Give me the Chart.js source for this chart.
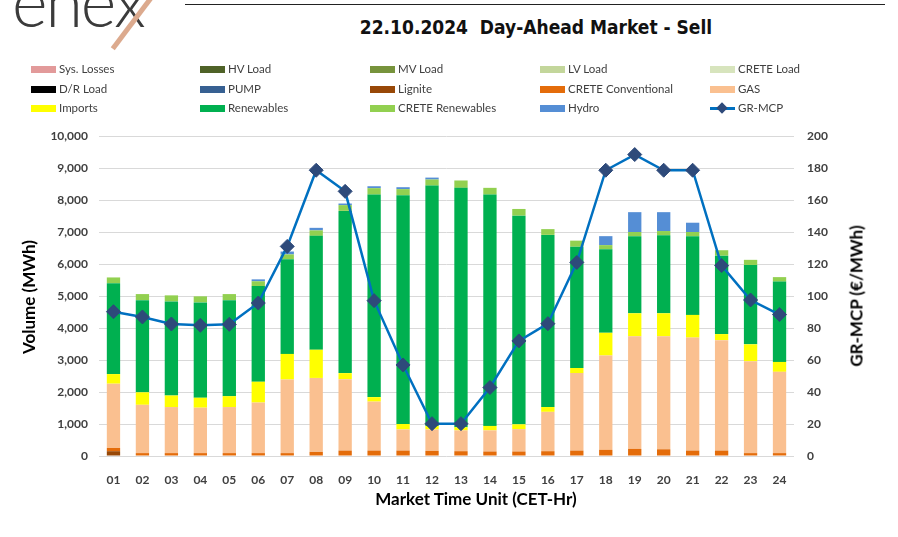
<!DOCTYPE html>
<html>
<head>
<meta charset="utf-8">
<script src="https://cdn.jsdelivr.net/npm/chart.js@4.4.1/dist/chart.umd.min.js"></script>
<style>
  body { margin: 0; background: #fff; }
  #wrap { position: relative; width: 898px; height: 537px; overflow: hidden; background: #fff; font-family: Lato, "DejaVu Sans", sans-serif; }
  #chart { position: absolute; left: 0; top: 0; }
  #logo { position: absolute; left: 12px; top: -40px; font-size: 68px; font-weight: 300; color: #3b3b3b; letter-spacing: -2px; }
  #logox { position: absolute; left: 114px; top: -40px; font-size: 68px; font-weight: 300; color: #3b3b3b; }
  #slash { position: absolute; left: 150px; top: -4px; width: 5px; height: 66px; background: #dcaa8e; transform: rotate(37deg); transform-origin: top center; }
  #rule { position: absolute; left: 185px; top: 4px; width: 700px; height: 1px; background: #222; }
  #title { position: absolute; left: 536px; top: 16px; transform: translateX(-50%); white-space: pre; font-family: "Liberation Sans Narrow", "DejaVu Sans Condensed", sans-serif; font-weight: bold; font-size: 19px; color: #111; }
  .leg { position: absolute; font-size: 11.5px; color: #404040; white-space: nowrap; line-height: 14px; }
  .sw { position: absolute; left: 0; top: 4px; width: 25px; height: 7px; }
  .lt { position: absolute; left: 28px; top: 0; }
  .vt { position: absolute; transform: translate(-50%, -50%) rotate(-90deg); font-weight: bold; font-size: 17px; color: #000; white-space: nowrap; }
  #xtitle { position: absolute; left: 476px; top: 498px; transform: translate(-50%, -50%); font-weight: bold; font-size: 17px; color: #000; white-space: nowrap; }
</style>
</head>
<body>
<div id="wrap">
  <div id="logo">ene</div>
  <div id="logox">x</div>
  <div id="slash"></div>
  <div id="rule"></div>
  <div id="title">22.10.2024  Day-Ahead Market - Sell</div>
  <canvas id="chart" width="898" height="537"></canvas>
  <div class="vt" style="left:28px; top:297px;">Volume (MWh)</div>
  <div class="vt" style="left:856px; top:296px;">GR-MCP (€/MWh)</div>
  <div id="xtitle">Market Time Unit (CET-Hr)</div>
</div>
<script>
// Market time units
const hours = ['01','02','03','04','05','06','07','08','09','10','11','12',
               '13','14','15','16','17','18','19','20','21','22','23','24'];

// Load side series (empty on the sell side, kept for the legend)
const sysLosses = [];
const hvLoad = [];
const mvLoad = [];
const lvLoad = [];
const creteLoad = [];
const drLoad = [];
const pump = [];

// Sell side volumes (MWh)
const lignite = [150,0,0,0,0,0,0,0,0,0,0,0,0,0,0,0,0,0,0,0,0,0,0,0];
const creteConventional = [100,90,90,90,90,90,90,130,170,170,170,160,150,140,140,150,170,190,220,210,170,170,90,90];
const gas = [2010,1510,1440,1420,1440,1580,2300,2310,2230,1530,660,670,650,660,700,1230,2420,2950,3520,3530,3530,3450,2870,2540];
const imports = [300,390,360,310,340,650,800,880,190,140,170,110,100,140,150,150,160,710,720,720,710,190,530,310];
const renewables = [2840,2880,2940,2980,3000,2990,2960,3560,5070,6330,7150,7510,7480,7230,6520,5380,3790,2610,2410,2440,2460,2450,2480,2510];
const creteRenewables = [180,190,190,190,190,150,150,170,180,200,190,190,230,210,210,180,190,130,130,130,130,170,160,140];
const hydro = [0,0,0,0,0,60,90,80,50,60,60,60,0,0,0,0,0,280,620,590,290,0,0,0];

// Greek market clearing price (€/MWh)
const grMcp = [90.2,86.9,82.5,81.7,82.3,95.6,131,178.6,165.4,97.1,56.9,20.2,
               20.2,42.8,71.9,82.7,121,178.6,188.4,178.6,178.6,119,97.5,88.4];

const leftTicks = [0,1000,2000,3000,4000,5000,6000,7000,8000,9000,10000];
const rightTicks = [0,20,40,60,80,100,120,140,160,180,200];

function bar(label, data, color) {
    return { type: 'bar', label: label, data: data, backgroundColor: color,
             stack: 'sell', yAxisID: 'y', order: 2,
             barPercentage: 0.46, categoryPercentage: 1.0 };
}

const datasets = [
    bar('Sys. Losses', sysLosses, '#e29a9a'),
    bar('HV Load', hvLoad, '#4f6228'),
    bar('MV Load', mvLoad, '#77933c'),
    bar('LV Load', lvLoad, '#c3d69b'),
    bar('CRETE Load', creteLoad, '#d7e4bd'),
    bar('D/R Load', drLoad, '#000000'),
    bar('PUMP', pump, '#376092'),
    bar('Lignite', lignite, '#984807'),
    bar('CRETE Conventional', creteConventional, '#e46c0a'),
    bar('GAS', gas, '#fac090'),
    bar('Imports', imports, '#ffff00'),
    bar('Renewables', renewables, '#00b050'),
    bar('CRETE Renewables', creteRenewables, '#92d050'),
    bar('Hydro', hydro, '#558ed5'),
    {
        type: 'line', label: 'GR-MCP', data: grMcp, yAxisID: 'y1', order: 0,
        borderColor: '#0070c0', borderWidth: 2.5, tension: 0,
        pointStyle: 'rectRot', pointRadius: 7, pointHoverRadius: 7,
        pointBackgroundColor: '#2e4a7a', pointBorderColor: '#2e4a7a', pointBorderWidth: 1
    }
];

const tickFont = { family: 'Lato', size: 12, weight: 'bold' };

const chart = new Chart(document.getElementById('chart').getContext('2d'), {
    data: { labels: hours, datasets: datasets },
    options: {
        responsive: false,
        animation: false,
        layout: { padding: { left: 0, right: 0, top: 136, bottom: 51 } },
        plugins: {
            legend: { display: false },
            title: { display: false },
            tooltip: { enabled: false }
        },
        scales: {
            x: {
                stacked: true,
                grid: { display: false },
                border: { display: false },
                ticks: { color: '#404040', font: tickFont, padding: 9, maxRotation: 0 },
                afterFit: function(scale) { scale.height = 30; }
            },
            y: {
                stacked: true,
                position: 'left',
                min: 0, max: 10000,
                afterBuildTicks: function(scale) { scale.ticks = leftTicks.map(v => ({ value: v })); },
                grid: { color: '#d9d9d9', lineWidth: 1, drawTicks: false },
                border: { display: false },
                ticks: { color: '#404040', font: tickFont, padding: 11,
                         callback: v => v.toLocaleString('en-US') },
                afterFit: function(scale) { scale.width = 99; }
            },
            y1: {
                position: 'right',
                min: 0, max: 200,
                afterBuildTicks: function(scale) { scale.ticks = rightTicks.map(v => ({ value: v })); },
                grid: { display: false, drawTicks: false },
                border: { display: false },
                ticks: { color: '#404040', font: tickFont, padding: 13 },
                afterFit: function(scale) { scale.width = 104; }
            }
        }
    }
});

// Legend laid out in a 5-column grid, built from the chart's datasets
const wrap = document.getElementById('wrap');
const colX = [31, 200, 370, 540, 710];
const rowY = [62, 82, 101];
chart.data.datasets.forEach(function(ds, i) {
    const item = document.createElement('div');
    item.className = 'leg';
    item.style.left = colX[i % 5] + 'px';
    item.style.top = rowY[Math.floor(i / 5)] + 'px';
    let swatch;
    if (ds.type === 'line') {
        swatch = '<div class="sw" style="top:6px;height:3px;background:' + ds.borderColor + '"></div>' +
                 '<div class="sw" style="left:8px;top:3px;width:8px;height:8px;background:' + ds.pointBackgroundColor +
                 ';transform:rotate(45deg)"></div>';
    } else {
        swatch = '<div class="sw" style="background:' + ds.backgroundColor + '"></div>';
    }
    item.innerHTML = swatch + '<span class="lt">' + ds.label + '</span>';
    wrap.appendChild(item);
});
</script>
</body>
</html>
